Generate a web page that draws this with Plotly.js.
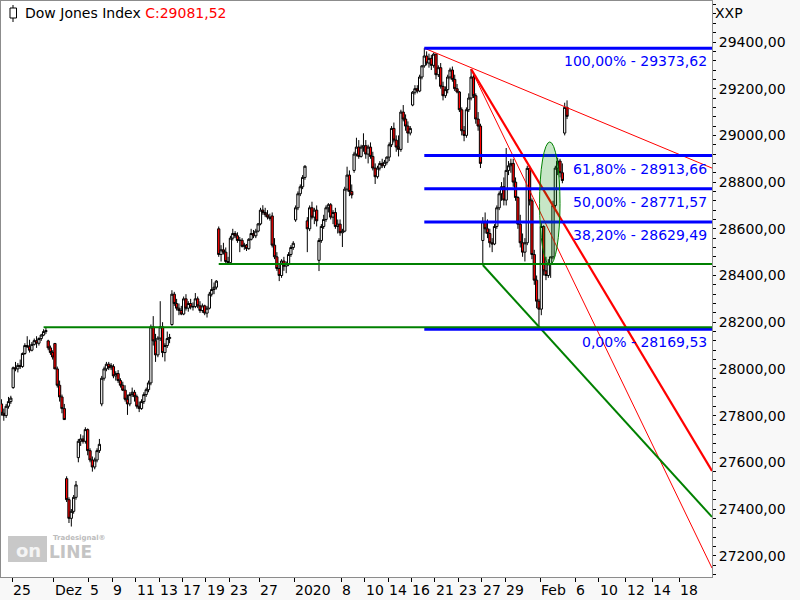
<!DOCTYPE html>
<html><head><meta charset="utf-8">
<script src="https://cdn.plot.ly/plotly-3.0.1.min.js"></script>
<style>html,body{margin:0;padding:0;background:#fff}#chart{width:800px;height:600px}</style>
</head><body><div id="chart"></div>
<script>
// ---- trading sessions (hourly-style bars, 5 per full session, 3 per half session) ----
const sessions = ['2019-11-22','2019-11-25','2019-11-26','2019-11-27','2019-11-29',
 '2019-12-02','2019-12-03','2019-12-04','2019-12-05','2019-12-06',
 '2019-12-09','2019-12-10','2019-12-11','2019-12-12','2019-12-13',
 '2019-12-16','2019-12-17','2019-12-18','2019-12-19','2019-12-20',
 '2019-12-23','2019-12-24','2019-12-26','2019-12-27','2019-12-30','2019-12-31',
 '2020-01-02','2020-01-03','2020-01-06','2020-01-07','2020-01-08','2020-01-09','2020-01-10',
 '2020-01-13','2020-01-14','2020-01-15','2020-01-16','2020-01-17',
 '2020-01-21','2020-01-22','2020-01-23','2020-01-24',
 '2020-01-27','2020-01-28','2020-01-29','2020-01-30','2020-01-31',
 '2020-02-03','2020-02-04','2020-02-05'];
const futureSessions = ['2020-02-06','2020-02-07','2020-02-10','2020-02-11','2020-02-12','2020-02-13','2020-02-14','2020-02-17','2020-02-18','2020-02-19','2020-02-20'];
const halfDays = ['2019-11-29','2019-12-24'];

const open = [
 27850,27810,27800,27840,27860, 27920,28005,28000,28015,28010, 28066,28100,28095,28080,28105, 28121,28110,28130,28145,28160, 28120,28090,28070,
 28109,28000,27930,27880,27830, 27530,27440,27360,27390,27450, 27620,27690,27700,27690,27740, 27650,27610,27580,27610,27650, 27850,27960,28000,28020,28005,
 28010,27970,27980,27950,27930, 27909,27870,27850,27890,27900, 27881,27840,27830,27860,27890, 27911,27940,28180,28120,28060, 28132,28180,28070,28100,28130,
 28190,28320,28280,28260,28250, 28235,28300,28260,28280,28265, 28267,28300,28270,28250,28270, 28239,28260,28320,28340,28350, 28600,28490,28510,28500,28460,
 28455,28560,28580,28570,28550, 28551,28525,28530, 28515,28555,28580,28570,28590, 28621,28680,28670,28660,28650, 28655,28530,28480,28430,28400, 28462,28440,28450,28490,28520,
 28638,28690,28750,28780,28820, 28634,28600,28690,28650,28680, 28465,28550,28610,28640,28690, 28703,28650,28670,28610,28620, 28583,28590,28770,28830,28760, 28850,28920,28950,28910,28950, 28956,28920,28950,28910,28860,
 28823,28860,28880,28870,28885, 28907,28960,29030,28980,28950, 28940,29100,29070,29040,29010, 29130,29185,29200,29190,29250, 29298,29340,29310,29330,29300,
 29348,29260,29290,29210,29170, 29196,29250,29280,29240,29200, 29186,29110,29020,29000,29110, 29160,29250,29170,29070,29040,
 28550,28630,28600,28580,28540, 28535,28610,28690,28750,28780, 28723,28850,28870,28880,28800, 28734,28620,28540,28500,28540, 28859,28720,28490,28380,28290,
 28256,28610,28420,28400,28450, 28480,28700,28860,28890,28840, 29010,29120];
const high = [
 27870,27830,27850,27880,27885, 28010,28030,28025,28040,28070, 28110,28140,28125,28115,28130, 28140,28135,28150,28170,28175, 28125,28100,28080,
 28110,28010,27950,27890,27850, 27540,27450,27400,27460,27520, 27700,27720,27715,27750,27745, 27660,27625,27620,27660,27700, 27970,28010,28030,28030,28025,
 28020,27990,27995,27960,27945, 27930,27890,27900,27920,27910, 27890,27860,27870,27900,27920, 27950,28190,28226,28150,28140, 28290,28200,28110,28160,28150,
 28337,28330,28300,28280,28270, 28310,28320,28290,28300,28285, 28325,28310,28290,28280,28275, 28270,28330,28385,28370,28380, 28610,28530,28540,28520,28480,
 28570,28600,28590,28585,28565, 28560,28540,28535, 28560,28600,28595,28600,28625, 28690,28701,28690,28680,28665, 28670,28560,28500,28450,28470, 28480,28460,28500,28530,28547,
 28700,28760,28790,28830,28872, 28650,28700,28716,28690,28700, 28560,28620,28660,28700,28710, 28710,28680,28690,28640,28640, 28600,28780,28866,28850,28790, 28930,28990,28980,28960,29009, 28980,28960,28970,28930,28880,
 28870,28890,28900,28895,28910, 28970,29040,29055,29000,29000, 29110,29130,29090,29060,29040, 29190,29215,29215,29260,29300, 29373.62,29360,29350,29345,29355,
 29350,29300,29310,29230,29210, 29260,29290,29295,29260,29220, 29190,29120,29040,29120,29180, 29284,29260,29180,29100,29050,
 28650,28670,28640,28600,28560, 28620,28700,28760,28800,28820, 28946,28890,28900,28900,28820, 28740,28660,28580,28560,28870, 28870,28730,28510,28400,28300,
 28630,28615,28480,28470,28480, 28720,28870,28905,28900,28880, 29140,29150];
const low = [
 27800,27778,27790,27830,27850, 27915,27990,27985,28000,28005, 28060,28090,28070,28075,28100, 28090,28100,28120,28140,28150, 28080,28060,28040,
 28000,27920,27860,27810,27782, 27430,27340,27325,27380,27440, 27600,27670,27680,27680,27630, 27600,27560,27570,27600,27640, 27840,27950,27990,27995,27995,
 27960,27950,27940,27920,27905, 27860,27803,27840,27880,27860, 27830,27815,27825,27850,27880, 27900,27930,28100,28030,28050, 28120,28050,28032,28090,28110,
 28185,28270,28250,28230,28230, 28230,28250,28245,28255,28250, 28260,28260,28240,28240,28230, 28220,28255,28310,28320,28340, 28480,28460,28490,28450,28449,
 28450,28550,28560,28540,28500, 28520,28510,28505, 28510,28550,28560,28560,28585, 28615,28660,28650,28640,28635, 28520,28470,28420,28376,28390, 28420,28410,28440,28480,28510,
 28630,28680,28740,28770,28810, 28500,28590,28640,28620,28610, 28419,28540,28600,28630,28670, 28640,28620,28600,28580,28570, 28522,28585,28760,28740,28730, 28840,28910,28900,28905,28930, 28900,28880,28900,28850,28792,
 28815,28850,28860,28860,28875, 28890,28950,28970,28930,28910, 28930,29060,29020,28968,29000, 29125,29175,29180,29185,29240, 29290,29300,29290,29280,29290,
 29240,29250,29200,29150,29160, 29180,29240,29230,29190,29180, 29100,29000,28975,28990,29100, 29150,29160,29050,29020,28860,
 28445,28580,28560,28520,28500, 28530,28600,28680,28720,28700, 28700,28830,28840,28780,28720, 28600,28520,28480,28460,28530, 28700,28470,28360,28260,28169.53,
 28230,28400,28380,28390,28390, 28470,28690,28830,28820,28795, 29000,29070];
const close = [
 27810,27800,27840,27860,27875, 28005,28000,28015,28010,28066, 28100,28095,28080,28105,28121, 28110,28130,28145,28160,28164, 28090,28070,28051,
 28000,27930,27880,27830,27783, 27440,27360,27390,27450,27503, 27690,27700,27690,27740,27650, 27610,27580,27610,27650,27677, 27960,28000,28020,28005,28015,
 27970,27980,27950,27930,27909, 27870,27850,27890,27900,27881, 27840,27830,27860,27890,27911, 27940,28180,28120,28060,28132, 28180,28070,28100,28130,28135,
 28320,28280,28260,28250,28235, 28300,28260,28280,28265,28267, 28300,28270,28250,28270,28239, 28260,28320,28340,28350,28376, 28490,28510,28500,28460,28455,
 28560,28580,28570,28550,28551, 28525,28530,28515, 28555,28580,28570,28590,28621, 28680,28670,28660,28650,28645, 28530,28480,28430,28400,28462, 28440,28450,28490,28520,28538,
 28690,28750,28780,28820,28868, 28600,28690,28650,28680,28634, 28550,28610,28640,28690,28703, 28650,28670,28610,28620,28583, 28590,28770,28830,28760,28745, 28920,28950,28910,28950,28956, 28920,28950,28910,28860,28823,
 28860,28880,28870,28885,28907, 28960,29030,28980,28950,28940, 29100,29070,29040,29010,29030, 29185,29200,29190,29250,29298, 29340,29310,29330,29300,29348,
 29260,29290,29210,29170,29196, 29250,29280,29240,29200,29186, 29110,29020,29000,29110,29160, 29250,29170,29070,29040,28880,
 28630,28600,28580,28540,28535, 28610,28690,28750,28780,28723, 28850,28870,28880,28800,28734, 28620,28540,28500,28540,28859, 28720,28490,28380,28290,28256,
 28610,28420,28400,28450,28480, 28700,28860,28890,28840,28807, 29120,29081.52];

// axis tick labels
const tickSessions = ['2019-11-25','2019-12-02','2019-12-05','2019-12-09','2019-12-11','2019-12-13','2019-12-17','2019-12-19','2019-12-23','2019-12-27',
 '2020-01-02','2020-01-08','2020-01-10','2020-01-14','2020-01-16','2020-01-21','2020-01-23','2020-01-27','2020-01-29',
 '2020-02-03','2020-02-06','2020-02-10','2020-02-12','2020-02-14','2020-02-18'];
const tickText = ['25','Dez','5','9','11','13','17','19','23','27','2020','8','10','14','16','21','23','27','29','Feb','6','10','12','14','18'];

// drawing tools
const fibRatios = [1, 0.618, 0.5, 0.382, 0];
const supportSession = ['2019-11-27','2019-12-20'];
const supportBar = [3, 0];
const supportPrice = [28178, 28449];
const trendSession = ['2020-01-17','2020-01-24','2020-01-24','2020-01-27'];
const trendStartPrice = [29373.62, 29284, 29284, 28445];
const trendEndPrice = [28860, 27563, 27147, 27366];
const ellipseSessions = ['2020-01-31','2020-02-03'];
const ellipsePrice = [28445, 28972];

// ---- build time coordinate (trading-day units) ----
const startOf = {}; let cur = -1;
sessions.concat(futureSessions).forEach(s => {
  startOf[s] = cur;
  const isFuture = futureSessions.includes(s) && s >= '2020-02-10';
  cur += halfDays.includes(s) ? 0.57 : (isFuture ? 1.15 : 1);
});
const lenOf = s => halfDays.includes(s) ? 0.57 : 1;
const slotsOf = s => halfDays.includes(s) ? 3 : 5;
const barCount = sessions.map(s => halfDays.includes(s) ? 3 : (s === '2020-02-05' ? 2 : 5));
const barTime = (s, j) => startOf[s] + (j + 0.5) * lenOf(s) / slotsOf(s);
const t = [];
sessions.forEach((s, i) => { for (let j = 0; j < barCount[i]; j++) t.push(barTime(s, j)); });

const xRange = [-0.94, 59.83];
const yRange = [27108.8, 29575.6];
const fmt = v => v.toFixed(2).replace('.', ',');

// Fibonacci retracement: from the high to the lowest low after it
const hi = Math.max(...high);
const peakIdx = high.indexOf(hi);
const lo = Math.min(...low.slice(peakIdx));
const peakT = t[peakIdx];
const lastClose = close[close.length - 1];

// pixel -> paper helpers for decorations (plot area 1..712 x 1..577)
const PX = p => (p - 1) / 711;
const PY = p => 1 - (p - 1) / 576;

const traces = [{
  type: 'candlestick', x: t, open: open, high: high, low: low, close: close,
  increasing: {line: {color: '#000', width: 1}, fillcolor: '#ffffff'},
  decreasing: {line: {color: '#000', width: 1}, fillcolor: '#ff0000'},
  whiskerwidth: 0, hoverinfo: 'skip', showlegend: false
}];
const trendStyles = [
  {color: '#ff0000', width: 1}, {color: '#ff0000', width: 2.2}, {color: '#ff0000', width: 1}, {color: '#008000', width: 2}
];
trendSession.forEach((s, i) => {
  traces.push({type: 'scatter', mode: 'lines', x: [barTime(s, 0), xRange[1]], y: [trendStartPrice[i], trendEndPrice[i]],
    line: trendStyles[i], hoverinfo: 'skip', showlegend: false});
});

const shapes = [];
const annotations = [];
fibRatios.forEach(r => {
  const v = lo + r * (hi - lo);
  shapes.push({type: 'line', xref: 'x', yref: 'y', x0: peakT, x1: xRange[1], y0: v, y1: v, line: {color: '#0000ff', width: 3}, layer: 'above'});
  annotations.push({xref: 'paper', yref: 'y', x: 1, y: v, xanchor: 'right', yanchor: 'top', xshift: -3, yshift: -3, showarrow: false,
    text: fmt(r * 100) + '% - ' + fmt(v), font: {family: 'DejaVu Sans', size: 14, color: '#0000ff'}});
});
supportPrice.forEach((p, i) => {
  shapes.push({type: 'line', xref: 'x', yref: 'y', x0: barTime(supportSession[i], supportBar[i]), x1: xRange[1], y0: p, y1: p,
    line: {color: '#008000', width: 2}, layer: 'above'});
});
shapes.push({type: 'circle', xref: 'x', yref: 'y',
  x0: startOf[ellipseSessions[0]] + 0.95, x1: startOf[ellipseSessions[1]] + 1.7,
  y0: ellipsePrice[0], y1: ellipsePrice[1], fillcolor: 'rgba(0,140,0,0.22)', line: {color: '#008000', width: 1}, layer: 'above'});

// x tick labels placed to the right of each tick
tickSessions.forEach((s, i) => {
  annotations.push({xref: 'x', yref: 'paper', x: startOf[s], y: 0, xanchor: 'left', yanchor: 'top', xshift: -1, yshift: -3,
    showarrow: false, text: tickText[i], font: {family: 'DejaVu Sans', size: 14, color: '#000'}});
});

// legend icon
shapes.push({type: 'line', xref: 'paper', yref: 'paper', x0: PX(13), x1: PX(13), y0: PY(5), y1: PY(22), line: {color: '#000', width: 1}});
shapes.push({type: 'rect', xref: 'paper', yref: 'paper', x0: PX(10), x1: PX(16.5), y0: PY(8), y1: PY(18), fillcolor: '#fff', line: {color: '#000', width: 1}});
// watermark
shapes.push({type: 'rect', xref: 'paper', yref: 'paper', x0: PX(8), x1: PX(47), y0: PY(536), y1: PY(562), fillcolor: '#c8c8c8', line: {width: 0}, layer: 'above'});

annotations.push({xref: 'paper', yref: 'paper', x: PX(23), y: PY(13), xanchor: 'left', yanchor: 'middle', showarrow: false,
  text: 'Dow Jones Index <span style="color:#ff0000">C:' + fmt(lastClose) + '</span>', font: {family: 'DejaVu Sans', size: 14, color: '#000'}});
annotations.push({xref: 'paper', yref: 'paper', x: PX(713), y: PY(13), xanchor: 'left', yanchor: 'middle', showarrow: false,
  text: 'XXP', font: {family: 'DejaVu Sans', size: 14, color: '#000'}});
annotations.push({xref: 'paper', yref: 'paper', x: PX(28), y: PY(550), xanchor: 'center', yanchor: 'middle', showarrow: false,
  text: '<b>on</b>', font: {family: 'DejaVu Sans', size: 18, color: '#f4f4f4'}});
annotations.push({xref: 'paper', yref: 'paper', x: PX(47), y: PY(552), xanchor: 'left', yanchor: 'middle', showarrow: false,
  text: '<b>LINE</b>', font: {family: 'DejaVu Sans', size: 17, color: '#c4c4c4'}});
annotations.push({xref: 'paper', yref: 'paper', x: PX(51), y: PY(538), xanchor: 'left', yanchor: 'middle', showarrow: false,
  text: '<b>Tradesignal®</b>', font: {family: 'DejaVu Sans', size: 7, color: '#bcbcbc'}});

const layout = {
  width: 800, height: 600,
  margin: {l: 1, r: 88, t: 1, b: 23, pad: 0},
  paper_bgcolor: '#f8f8f8', plot_bgcolor: '#ffffff',
  separators: ',.', showlegend: false, boxgap: 0, boxgroupgap: 0,
  font: {family: 'DejaVu Sans', size: 14, color: '#000'},
  xaxis: {range: xRange, rangeslider: {visible: false}, tickmode: 'array',
    tickvals: tickSessions.map(s => startOf[s]), ticktext: tickText.map(() => ''),
    ticks: 'outside', ticklen: 4, tickcolor: '#000', showticklabels: false,
    showgrid: false, zeroline: false, showline: true, mirror: true, linecolor: '#8c8c8c', linewidth: 1,
    fixedrange: true},
  yaxis: {side: 'right', range: yRange, tickmode: 'linear', tick0: 0, dtick: 200, tickformat: '.2f',
    ticks: 'outside', ticklen: 3, tickcolor: '#000', showgrid: false, zeroline: false,
    showline: true, mirror: true, linecolor: '#8c8c8c', linewidth: 1,
    minor: {dtick: 40, tick0: 0, ticks: 'outside', ticklen: 3, tickcolor: '#000', showgrid: false},
    tickfont: {family: 'DejaVu Sans', size: 14, color: '#000'}, fixedrange: true},
  shapes: shapes, annotations: annotations
};
Plotly.newPlot('chart', traces, layout, {displayModeBar: false, staticPlot: true});
</script></body></html>
